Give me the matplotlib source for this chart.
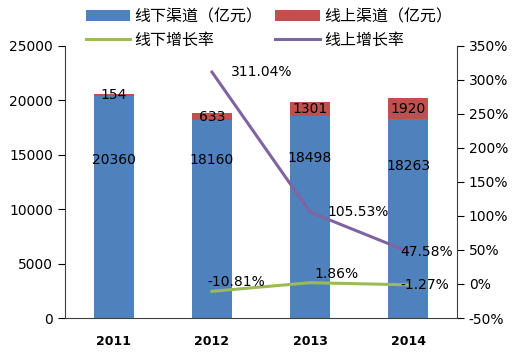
import matplotlib.pyplot as plt
import numpy as np
from matplotlib.ticker import FuncFormatter

plt.rcParams['font.family'] = ['Noto Sans CJK SC', 'DejaVu Sans']

years = ['2011', '2012', '2013', '2014']
offline = [20360, 18160, 18498, 18263]
online = [154, 633, 1301, 1920]
offline_growth = [None, -10.81, 1.86, -1.27]
online_growth = [None, 311.04, 105.53, 47.58]

blue = '#4F81BD'
red = '#C0504D'
green = '#9BBB59'
purple = '#8064A2'

fig = plt.figure(figsize=(5.22, 3.56), dpi=100)
ax = fig.add_axes([0.1245, 0.1067, 0.751, 0.7653])
x = np.arange(len(years))

b1 = ax.bar(x, offline, width=0.4, color=blue, label='线下渠道（亿元）')
b2 = ax.bar(x, online, width=0.4, bottom=offline, color=red, label='线上渠道（亿元）')
ax.set_ylim(0, 25000)
ax.set_xlim(-0.5, 3.5)
ax.set_yticks(range(0, 25001, 5000))
ax.set_xticks(x)
ax.set_xticklabels(years, fontfamily='DejaVu Sans', fontsize=9, fontweight='bold')
ax.tick_params(axis='x', length=0, pad=12)
ax.tick_params(axis='y', labelsize=10, direction='out', length=5)
for lab in ax.get_yticklabels():
    lab.set_fontfamily('DejaVu Sans')
ax.spines['top'].set_visible(False)
ax.spines['left'].set_color('#404040')
ax.spines['bottom'].set_color('#404040')
ax.spines['right'].set_visible(False)

# offline labels sit a bit above segment centre in the original
off_label_y = [14500, 14500, 14650, 13950]
for i in range(len(years)):
    ax.text(x[i], off_label_y[i], str(offline[i]), ha='center', va='center',
            fontsize=10, fontfamily='DejaVu Sans')
    ax.text(x[i], offline[i] + online[i] / 2, str(online[i]), ha='center',
            va='center', fontsize=10, fontfamily='DejaVu Sans')

ax2 = ax.twinx()
ax2.set_position(ax.get_position())
ax2.set_ylim(-50, 350)
ax2.set_yticks(range(-50, 351, 50))
ax2.yaxis.set_major_formatter(FuncFormatter(lambda v, p: f'{v:.0f}%'))
ax2.tick_params(axis='y', labelsize=10, direction='out', length=5)
for lab in ax2.get_yticklabels():
    lab.set_fontfamily('DejaVu Sans')
for s in ['top', 'left', 'bottom']:
    ax2.spines[s].set_visible(False)
ax2.spines['right'].set_color('#404040')

xl = x[1:]
g = [v for v in offline_growth if v is not None]
p = [v for v in online_growth if v is not None]
l1, = ax2.plot(xl, g, color=green, lw=2.2, label='线下增长率')
l2, = ax2.plot(xl, p, color=purple, lw=2.2, label='线上增长率')

kw = dict(fontsize=10, fontfamily='DejaVu Sans')
ax2.text(xl[0] - 0.05, 3, f'{g[0]:.2f}%', ha='left', va='center', **kw)
ax2.text(xl[1] + 0.05, g[1] + 2, f'{g[1]:.2f}%', ha='left', va='bottom', **kw)
ax2.text(xl[2] - 0.08, g[2], f'{g[2]:.2f}%', ha='left', va='center', **kw)
ax2.text(xl[0] + 0.19, p[0], f'{p[0]:.2f}%', ha='left', va='center', **kw)
ax2.text(xl[1] + 0.18, p[1], f'{p[1]:.2f}%', ha='left', va='center', **kw)
ax2.text(xl[2] - 0.08, p[2], f'{p[2]:.2f}%', ha='left', va='center', **kw)

fig.legend([b1, l1, b2, l2],
           ['线下渠道（亿元）', '线下增长率', '线上渠道（亿元）', '线上增长率'],
           ncol=2, loc='center', bbox_to_anchor=(0.515, 0.92), frameon=False,
           fontsize=11.5, handlelength=2.8, handleheight=0.7, labelspacing=0.4,
           columnspacing=0.8, handletextpad=0.25, borderpad=0)

fig.savefig('out.png', dpi=100)
